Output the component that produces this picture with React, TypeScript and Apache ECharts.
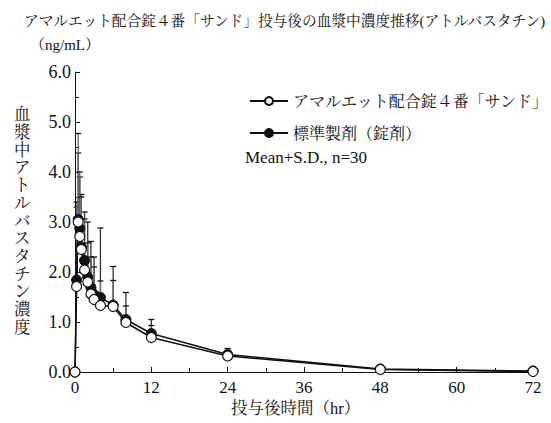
import React, { useEffect, useRef } from "react";
import * as echarts from "echarts";

const times = [0, 0.25, 0.5, 0.75, 1, 1.5, 2, 2.5, 3, 4, 6, 8, 12, 24, 48, 72];
const testMean = [0, 1.71, 3.0, 2.71, 2.45, 2.04, 1.8, 1.56, 1.45, 1.33, 1.31, 0.99, 0.69, 0.32, 0.05, 0.01];
const testTop = [0, 3.4, 4.77, 4.0, 3.5, 3.06, 2.58, 2.3, 2.1, 1.82, 1.83, 1.32, 0.93, 0.42, 0.1, 0.03];
const refMean = [0, 1.84, 3.05, 2.87, 2.5, 2.23, 1.9, 1.69, 1.55, 1.49, 1.34, 1.05, 0.77, 0.35, 0.06, 0.02];
const refTop = [0, 3.3, 4.38, 3.9, 3.55, 3.2, 3.0, 2.61, 2.3, 2.88, 2.11, 1.59, 1.05, 0.47, 0.12, 0.04];

const testName = "アマルエット配合錠４番「サンド」";
const refName = "標準製剤（錠剤）";
const titleText = "アマルエット配合錠４番「サンド」投与後の血漿中濃度推移(アトルバスタチン)";
const yName = "血漿中アトルバスタチン濃度";
const xName = "投与後時間（hr）";
const unitText = "（ng/mL）";
const noteText = "Mean+S.D., n=30";

const FONT = "'Liberation Serif', 'Noto Serif CJK JP', 'Noto Sans CJK JP', serif";

function errData(mean: number[], top: number[]) {
  return times.map((t, i) => [t, mean[i], top[i]]);
}

function errRender(color: string) {
  return (params: any, api: any) => {
    const x = api.value(0);
    const m = api.value(1);
    const tp = api.value(2);
    if (tp <= m) return { type: "group", children: [] };
    const p0 = api.coord([x, m]);
    const p1 = api.coord([x, tp]);
    return {
      type: "group",
      children: [
        { type: "line", shape: { x1: p0[0], y1: p0[1], x2: p1[0], y2: p1[1] }, style: { stroke: color, lineWidth: 1.3 } },
        { type: "line", shape: { x1: p1[0] - 3, y1: p1[1], x2: p1[0] + 3, y2: p1[1] }, style: { stroke: "#111", lineWidth: 1.3 } },
      ],
    };
  };
}

export default function App() {
  const ref = useRef<HTMLDivElement>(null);
  useEffect(() => {
    if (!ref.current) return;
    document.body.style.margin = "0";
    const chart = echarts.init(ref.current, undefined, { renderer: "svg" });
    chart.setOption({
      animation: false,
      backgroundColor: "#fff",
      textStyle: { fontFamily: FONT, color: "#111" },
      grid: { left: 75, right: 18, top: 72, bottom: 51, containLabel: false },
      xAxis: {
        type: "value",
        min: 0,
        max: 72,
        interval: 12,
        axisLine: { lineStyle: { color: "#111", width: 1 } },
        axisTick: { inside: true, length: 5, lineStyle: { color: "#111" } },
        minorTick: { show: true, splitNumber: 2, length: 4, lineStyle: { color: "#111" } },
        splitLine: { show: false },
        axisLabel: { color: "#111", fontSize: 17, fontFamily: FONT, margin: 7 },
      },
      yAxis: {
        type: "value",
        min: 0,
        max: 6,
        interval: 1,
        axisLine: { show: true, lineStyle: { color: "#111", width: 1 } },
        axisTick: { show: true, inside: true, length: 5, lineStyle: { color: "#111" } },
        minorTick: { show: true, splitNumber: 2, length: 4, lineStyle: { color: "#111" } },
        splitLine: { show: false },
        axisLabel: { color: "#111", fontSize: 18, fontFamily: FONT, margin: 4, formatter: (v: number) => v.toFixed(1) },
      },
      legend: {
        orient: "vertical",
        left: 244,
        top: 88,
        itemWidth: 38,
        itemHeight: 10,
        itemGap: 16,
        data: [testName, refName],
        textStyle: { fontSize: 16, fontFamily: FONT, color: "#111" },
      },
      title: {
        text: titleText,
        left: 19,
        top: 9,
        textStyle: { fontSize: 14.7, fontWeight: "normal", fontFamily: FONT, color: "#111" },
      },
      graphic: [
        { type: "text", left: 30, top: 37, style: { text: unitText, fontSize: 15, fontFamily: FONT, fill: "#111" } },
        { type: "text", left: 245, top: 149, style: { text: noteText, fontSize: 17, fontFamily: FONT, fill: "#111" } },
        {
          type: "text",
          left: 14,
          top: 106,
          style: { text: yName.split("").join("\n"), fontSize: 16.5, lineHeight: 17.7, fontFamily: FONT, fill: "#111111" },
        },
        { type: "text", left: 231, top: 400, style: { text: xName, fontSize: 16.5, fontFamily: FONT, fill: "#111" } },
      ],
      series: [
        {
          name: "refErr",
          type: "custom",
          data: errData(refMean, refTop),
          renderItem: errRender("#333"),
          encode: { x: 0, y: [1, 2] },
          z: 1,
        },
        {
          name: "testErr",
          type: "custom",
          data: errData(testMean, testTop),
          renderItem: errRender("#666"),
          encode: { x: 0, y: [1, 2] },
          z: 1,
        },
        {
          name: refName,
          type: "line",
          data: times.map((t, i) => [t, refMean[i]]),
          symbol: "circle",
          symbolSize: 10,
          lineStyle: { color: "#111", width: 1.5 },
          itemStyle: { color: "#111", borderColor: "#111", borderWidth: 1 },
          z: 3,
        },
        {
          name: testName,
          type: "line",
          data: times.map((t, i) => [t, testMean[i]]),
          symbol: "circle",
          symbolSize: 10,
          lineStyle: { color: "#111", width: 1.5 },
          itemStyle: { color: "#fff", borderColor: "#111", borderWidth: 1.2 },
          z: 4,
        },
      ],
    });
    return () => chart.dispose();
  }, []);
  return <div ref={ref} style={{ width: 551, height: 423 }} />;
}
